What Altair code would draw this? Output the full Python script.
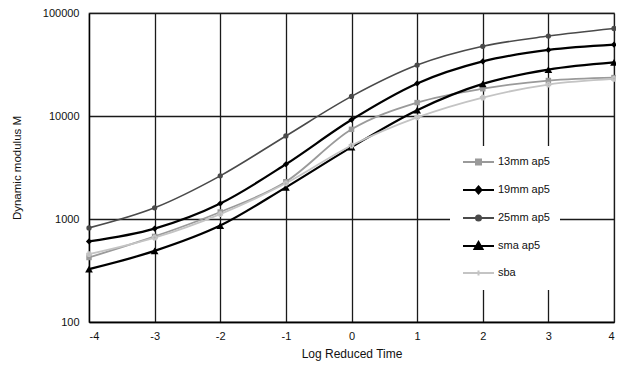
import altair as alt
import pandas as pd

times = [-4, -3, -2, -1, 0, 1, 2, 3, 4]
series_names = ["13mm ap5", "19mm ap5", "25mm ap5", "sma ap5", "sba"]
mm13 = [423, 677, 1170, 2300, 7420, 13500, 18400, 22100, 23600]
mm19 = [606, 807, 1413, 3400, 9190, 20700, 33900, 43800, 49300]
mm25 = [820, 1285, 2625, 6400, 15500, 31200, 47500, 59700, 70700]
sma = [326, 490, 863, 2030, 4990, 11400, 20500, 28200, 33100]
sba = [455, 658, 1117, 2220, 5170, 9680, 15100, 20200, 22900]
y_ticks = [100, 1000, 10000, 100000]

values = [mm13, mm19, mm25, sma, sba]
rows = []
for name, vals in zip(series_names, values):
    for t, v in zip(times, vals):
        rows.append({"time": t, "modulus": v, "series": name})
df = pd.DataFrame(rows)

colors = ["#9a9a9a", "#000000", "#4a4a4a", "#000000", "#c4c4c4"]
shapes = ["square", "diamond", "circle", "triangle-up", "cross"]
sizes = [30, 38, 28, 60, 18]
widths = [1.8, 2.2, 1.6, 2.2, 1.8]
legend_paths = [
    "M-0.6,0H5.6M2,-0.5H3V0.5H2Z",
    "M-0.6,0H5.6M2.5,-0.7L3.1,0L2.5,0.7L1.9,0Z",
    "M-0.6,0H5.6M2,0A0.5,0.5,0,1,0,3,0A0.5,0.5,0,1,0,2,0Z",
    "M-0.6,0H5.6M2.5,-0.8L3.3,0.6L1.7,0.6Z",
    "M-0.6,0H5.6M2.5,-0.5V0.5",
]

FONT = "Liberation Sans"

x_enc = alt.X(
    "time:Q",
    scale=alt.Scale(domain=[-4, 4], nice=False),
    axis=alt.Axis(
        values=times, labelExpr="'' + datum.value", title="Log Reduced Time",
        grid=True, gridColor="#1a1a1a", gridWidth=1.3,
        domainColor="#000000", domainWidth=1.3, ticks=False,
        labelPadding=8, labelFontSize=11, labelColor="#111111", labelFont=FONT,
        titleFont=FONT, titleFontSize=12, titleFontWeight="normal", titleColor="#111111",
        titlePadding=7,
    ),
)
y_enc = alt.Y(
    "modulus:Q",
    scale=alt.Scale(type="log", domain=[100, 100000], nice=False),
    axis=alt.Axis(
        values=y_ticks, format="d", title="Dynamic modulus M",
        grid=True, gridColor="#1a1a1a", gridWidth=1.3,
        domainColor="#000000", domainWidth=1.3, ticks=False,
        labelPadding=10, labelFontSize=11, labelColor="#111111", labelFont=FONT,
        titleFont=FONT, titleFontSize=11.5, titleFontWeight="normal", titleColor="#111111",
        titlePadding=20,
    ),
)

base = alt.Chart(df)
layers = []
for name, col, shp, sz, w in zip(series_names, colors, shapes, sizes, widths):
    sub = base.transform_filter(alt.datum.series == name)
    layers.append(
        sub.mark_line(color=col, strokeWidth=w, interpolate="monotone").encode(x=x_enc, y=y_enc)
    )
for name, col, shp, sz, w in zip(series_names, colors, shapes, sizes, widths):
    sub = base.transform_filter(alt.datum.series == name)
    layers.append(
        sub.mark_point(shape=shp, size=sz, filled=(shp != "cross"), color=col,
                       opacity=1, strokeWidth=1.5).encode(x=x_enc, y=y_enc)
    )

leg = alt.Legend(
    title=None, orient="none", legendX=361, legendY=133, padding=10,
    fillColor="white", labelFont=FONT, labelFontSize=11, labelColor="#111111",
    labelOffset=26, rowPadding=13, symbolSize=100, symbolStrokeWidth=2,
)
legend_layer = base.transform_filter("false").mark_point(
    filled=True, size=100, strokeWidth=2, opacity=1
).encode(
    fill=alt.Fill("series:N", scale=alt.Scale(domain=series_names, range=colors), legend=leg),
    stroke=alt.Stroke("series:N", scale=alt.Scale(domain=series_names, range=colors), legend=leg),
    shape=alt.Shape("series:N", scale=alt.Scale(domain=series_names, range=legend_paths), legend=leg),
)
layers.append(legend_layer)

chart = alt.layer(*layers).properties(
    width=525, height=309,
    autosize=alt.AutoSizeParams(type="none"),
    padding={"left": 81, "top": 5, "right": 2, "bottom": 39},
    background="white",
).configure_view(stroke="#9a9a9a", strokeWidth=1.3)

chart.save("out.html", embed_options={"renderer": "svg", "actions": False})
